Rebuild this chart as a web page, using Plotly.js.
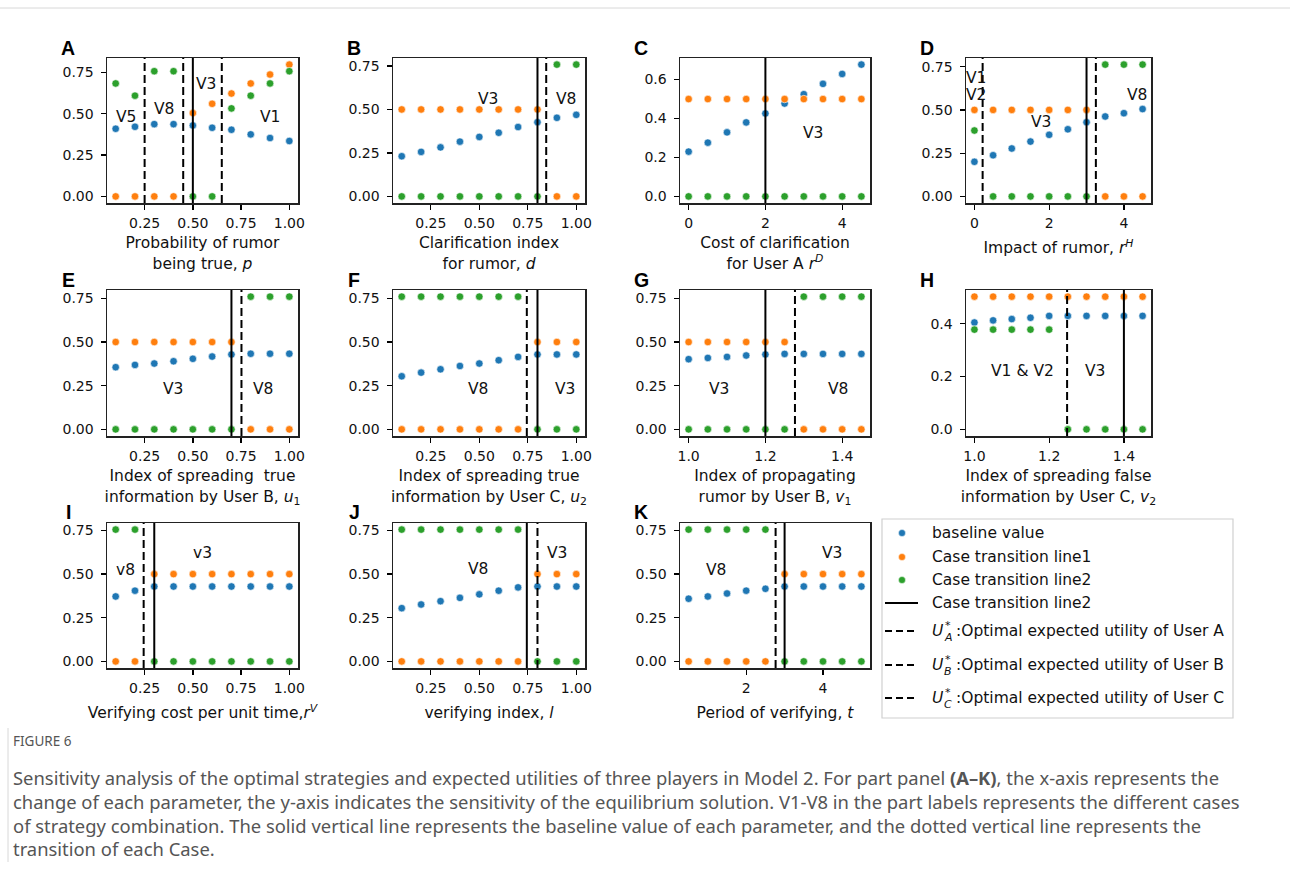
<!DOCTYPE html>
<html><head><meta charset="utf-8">
<script src="https://cdn.plot.ly/plotly-3.0.1.min.js"></script>
<style>body{margin:0;background:#fff}#chart{width:1290px;height:879px}</style>
</head><body><div id="chart"></div>
<script>
// ---------- data ----------
const x01 = [0.1,0.2,0.3,0.4,0.5,0.6,0.7,0.8,0.9,1.0];
const xCost = [0,0.5,1,1.5,2,2.5,3,3.5,4,4.5];
const xIdx = [1.0,1.05,1.1,1.15,1.2,1.25,1.3,1.35,1.4,1.45];
const xPeriod = [0.5,1,1.5,2,2.5,3,3.5,4,4.5,5];

const blueA = [0.409,0.421,0.437,0.437,0.429,0.415,0.403,0.375,0.353,0.335];
const orangeA = [0,0,0,0,0.504,0.56,0.622,0.683,0.737,0.797];
const greenA = [0.683,0.609,0.757,0.757,0,0,0.532,0.609,0.683,0.757];
const solidA = [0.5], dashA = [0.25,0.45,0.65];
const labA = ['V5','V8','V3','V1'], labXA = [0.151,0.35,0.57,0.90], labYA = [0.48,0.53,0.68,0.48];

const blueB = [0.231,0.256,0.282,0.315,0.342,0.366,0.399,0.427,0.452,0.469];
const orangeB = [0.5,0.5,0.5,0.5,0.5,0.5,0.5,0.5,0,0];
const greenB = [0,0,0,0,0,0,0,0,0.758,0.758];
const solidB = [0.8], dashB = [0.845];
const labB = ['V3','V8'], labXB = [0.547,0.947], labYB = [0.56,0.56];

const blueC = [0.230,0.276,0.329,0.380,0.426,0.477,0.525,0.578,0.629,0.677];
const orangeC = [0.5,0.5,0.5,0.5,0.5,0.5,0.5,0.5,0.5,0.5];
const greenC = [0,0,0,0,0,0,0,0,0,0];
const solidC = [2.0], dashC = [];
const labC = ['V3'], labXC = [3.23], labYC = [0.324];

const blueD = [0.200,0.238,0.277,0.317,0.356,0.388,0.429,0.462,0.481,0.505];
const orangeD = [0.5,0.5,0.5,0.5,0.5,0.5,0.5,0,0,0];
const greenD = [0.381,0,0,0,0,0,0,0.762,0.762,0.762];
const solidD = [3.0], dashD = [0.22,3.25];
const labD = ['V1','V2','V3','V8'], labXD = [0.03,0.03,1.77,4.35], labYD = [0.683,0.587,0.433,0.587];

const blueE = [0.356,0.369,0.377,0.390,0.404,0.417,0.429,0.433,0.433,0.433];
const orangeE = [0.5,0.5,0.5,0.5,0.5,0.5,0.5,0,0,0];
const greenE = [0,0,0,0,0,0,0,0.76,0.76,0.76];
const solidE = [0.7], dashE = [0.752];
const labE = ['V3','V8'], labXE = [0.398,0.863], labYE = [0.233,0.233];

const blueF = [0.304,0.325,0.344,0.363,0.377,0.396,0.415,0.429,0.429,0.429];
const orangeF = [0,0,0,0,0,0,0,0.5,0.5,0.5];
const greenF = [0.76,0.76,0.76,0.76,0.76,0.76,0.76,0,0,0];
const solidF = [0.8], dashF = [0.745];
const labF = ['V8','V3'], labXF = [0.495,0.943], labYF = [0.233,0.233];

const blueG = [0.402,0.409,0.415,0.423,0.429,0.432,0.432,0.432,0.432,0.432];
const orangeG = [0.5,0.5,0.5,0.5,0.5,0.5,0,0,0,0];
const greenG = [0,0,0,0,0,0,0.76,0.76,0.76,0.76];
const solidG = [1.2], dashG = [1.277];
const labG = ['V3','V8'], labXG = [1.08,1.39], labYG = [0.233,0.233];

const blueH = [0.405,0.413,0.418,0.423,0.430,0.430,0.430,0.430,0.430,0.430];
const orangeH = [0.503,0.503,0.503,0.503,0.503,0.503,0.503,0.503,0.503,0.503];
const greenH = [0.378,0.378,0.378,0.378,0.378,0,0,0,0,0];
const solidH = [1.4], dashH = [1.248];
const labH = ['V1 & V2','V3'], labXH = [1.13,1.323], labYH = [0.221,0.221];

const blueI = [0.372,0.405,0.429,0.429,0.429,0.429,0.429,0.429,0.429,0.429];
const orangeI = [0,0,0.5,0.5,0.5,0.5,0.5,0.5,0.5,0.5];
const greenI = [0.755,0.755,0,0,0,0,0,0,0,0];
const solidI = [0.3], dashI = [0.245];
const labI = ['v8','v3'], labXI = [0.15,0.549], labYI = [0.525,0.62];

const blueJ = [0.305,0.326,0.345,0.364,0.384,0.405,0.424,0.429,0.429,0.429];
const orangeJ = [0,0,0,0,0,0,0,0.5,0.5,0.5];
const greenJ = [0.755,0.755,0.755,0.755,0.755,0.755,0.755,0,0,0];
const solidJ = [0.745], dashJ = [0.8];
const labJ = ['V8','V3'], labXJ = [0.495,0.90], labYJ = [0.53,0.62];

const blueK = [0.359,0.372,0.389,0.405,0.416,0.429,0.429,0.429,0.429,0.429];
const orangeK = [0,0,0,0,0,0.5,0.5,0.5,0.5,0.5];
const greenK = [0.755,0.755,0.755,0.755,0.755,0,0,0,0,0];
const solidK = [3.0], dashK = [2.766];
const labK = ['V8','V3'], labXK = [1.22,4.24], labYK = [0.525,0.62];

// tick labels
const tick01 = [0.25,0.5,0.75,1.0], tick01Text = ['0.25','0.50','0.75','1.00'];
const tickCost = [0,2,4], tickCostText = ['0','2','4'];
const tickIdx = [1.0,1.2,1.4], tickIdxText = ['1.0','1.2','1.4'];
const tickPeriod = [2,4], tickPeriodText = ['2','4'];
const tickY = [0,0.25,0.5,0.75], tickYText = ['0.00','0.25','0.50','0.75'];
const tickY2 = [0,0.2,0.4,0.6], tickY2Text = ['0.0','0.2','0.4','0.6'];
const tickY3 = [0,0.2,0.4], tickY3Text = ['0.0','0.2','0.4'];

const panelLetters = ['A','B','C','D','E','F','G','H','I','J','K'];
const xTitles = [
 'Probability of rumor<br>being true, <i>p</i>',
 'Clarification index<br>for rumor, <i>d</i>',
 'Cost of clarification<br>for User A <i>r</i><sup><i>D</i></sup>',
 'Impact of rumor, <i>r</i><sup><i>H</i></sup>',
 'Index of spreading  true<br>information by User B, <i>u</i><sub>1</sub>',
 'Index of spreading true<br>information by User C, <i>u</i><sub>2</sub>',
 'Index of propagating<br>rumor by User B, <i>v</i><sub>1</sub>',
 'Index of spreading false<br>information by User C, <i>v</i><sub>2</sub>',
 'Verifying cost per unit time,<i>r</i><sup><i>V</i></sup>',
 'verifying index, <i>l</i>',
 'Period of verifying, <i>t</i>'
];
const legendNames = ['baseline value','Case transition line1','Case transition line2','Case transition line2'];
const legendUsers = ['A','B','C'];

// ---------- layout helpers ----------
const W = 1290, H = 879;
const FONT = 'DejaVu Sans';
const colsPx = [[107,298],[393,585],[680,870],[966,1151]];
const rowsPx = [[58,203],[290,436],[523,668]];
const letterDy = [10, 10, 11];
const COLORS = ['#1f77b4','#ff7f0e','#2ca02c'];

const panels = [
 {x:x01, s:[blueA,orangeA,greenA], sol:solidA, das:dashA, lab:labA, lx:labXA, ly:labYA, tv:tick01, tt:tick01Text, yv:tickY, yt:tickYText},
 {x:x01, s:[blueB,orangeB,greenB], sol:solidB, das:dashB, lab:labB, lx:labXB, ly:labYB, tv:tick01, tt:tick01Text, yv:tickY, yt:tickYText},
 {x:xCost, s:[blueC,orangeC,greenC], sol:solidC, das:dashC, lab:labC, lx:labXC, ly:labYC, tv:tickCost, tt:tickCostText, yv:tickY2, yt:tickY2Text},
 {x:xCost, s:[blueD,orangeD,greenD], sol:solidD, das:dashD, lab:labD, lx:labXD, ly:labYD, tv:tickCost, tt:tickCostText, yv:tickY, yt:tickYText},
 {x:x01, s:[blueE,orangeE,greenE], sol:solidE, das:dashE, lab:labE, lx:labXE, ly:labYE, tv:tick01, tt:tick01Text, yv:tickY, yt:tickYText},
 {x:x01, s:[blueF,orangeF,greenF], sol:solidF, das:dashF, lab:labF, lx:labXF, ly:labYF, tv:tick01, tt:tick01Text, yv:tickY, yt:tickYText},
 {x:xIdx, s:[blueG,orangeG,greenG], sol:solidG, das:dashG, lab:labG, lx:labXG, ly:labYG, tv:tickIdx, tt:tickIdxText, yv:tickY, yt:tickYText},
 {x:xIdx, s:[blueH,orangeH,greenH], sol:solidH, das:dashH, lab:labH, lx:labXH, ly:labYH, tv:tickIdx, tt:tickIdxText, yv:tickY3, yt:tickY3Text},
 {x:x01, s:[blueI,orangeI,greenI], sol:solidI, das:dashI, lab:labI, lx:labXI, ly:labYI, tv:tick01, tt:tick01Text, yv:tickY, yt:tickYText},
 {x:x01, s:[blueJ,orangeJ,greenJ], sol:solidJ, das:dashJ, lab:labJ, lx:labXJ, ly:labYJ, tv:tick01, tt:tick01Text, yv:tickY, yt:tickYText},
 {x:xPeriod, s:[blueK,orangeK,greenK], sol:solidK, das:dashK, lab:labK, lx:labXK, ly:labYK, tv:tickPeriod, tt:tickPeriodText, yv:tickY, yt:tickYText}
];

function autoRange(arr){
  const mn = Math.min(...arr), mx = Math.max(...arr), pad = (mx-mn)*0.05;
  return [mn-pad, mx+pad];
}
const px = v => v / W;
const py = v => 1 - v / H;

const traces = [], shapes = [], annotations = [];
const layout = {
  width: W, height: H, margin:{l:0,r:0,t:0,b:0},
  paper_bgcolor:'#fff', plot_bgcolor:'#fff', showlegend:false,
  font:{family:FONT, color:'#000'}
};

panels.forEach((p, i) => {
  const n = i + 1, sfx = n === 1 ? '' : String(n);
  const r = Math.floor(i / 4);
  const col = colsPx[i % 4], row = rowsPx[r];
  p.s.forEach((ys, k) => {
    traces.push({type:'scatter', mode:'markers', x:p.x, y:ys, xaxis:'x'+sfx, yaxis:'y'+sfx,
      marker:{color:COLORS[k], size:7.5, line:{color:'#fff', width:0.6}}, hoverinfo:'x+y', showlegend:false, cliponaxis:false});
  });
  const allY = [].concat(...p.s);
  const twoLine = xTitles[i].indexOf('<br>') >= 0;
  layout['xaxis'+sfx] = {
    domain:[px(col[0]), px(col[1])], anchor:'y'+sfx, range:autoRange(p.x),
    tickvals:p.tv, ticktext:p.tt, ticks:'outside', ticklen:5, tickwidth:1.3, tickcolor:'#000',
    showline:true, mirror:true, linecolor:'#222', linewidth:1.5, showgrid:false, zeroline:false,
    tickfont:{family:FONT, size:14, color:'#111'}, automargin:false, ticklabelstandoff:2,
    title:{text:xTitles[i], font:{family:FONT, size:15.5, color:'#111'}, standoff: twoLine ? 7 : 12}
  };
  layout['yaxis'+sfx] = {
    domain:[py(row[1]), py(row[0])], anchor:'x'+sfx, range:autoRange(allY),
    tickvals:p.yv, ticktext:p.yt, ticks:'outside', ticklen:5, tickwidth:1.3, tickcolor:'#000',
    showline:true, mirror:true, linecolor:'#222', linewidth:1.5, showgrid:false, zeroline:false,
    tickfont:{family:FONT, size:14, color:'#111'}, automargin:false, ticklabelstandoff:4
  };
  p.sol.forEach(v => shapes.push({type:'line', xref:'x'+sfx, yref:'y'+sfx+' domain', x0:v, x1:v, y0:0, y1:1,
    line:{color:'#000', width:2}, layer:'above'}));
  p.das.forEach(v => shapes.push({type:'line', xref:'x'+sfx, yref:'y'+sfx+' domain', x0:v, x1:v, y0:0, y1:1,
    line:{color:'#000', width:2, dash:'8px,4px'}, layer:'above'}));
  p.lab.forEach((t, j) => annotations.push({xref:'x'+sfx, yref:'y'+sfx, x:p.lx[j], y:p.ly[j], text:t,
    showarrow:false, xanchor:'center', yanchor:'middle', font:{family:FONT, size:15.5, color:'#111'}}));
  // panel letter
  annotations.push({xref:'paper', yref:'paper', x:px(col[0]-39), y:py(row[0]-letterDy[r]), text:'<b>'+panelLetters[i]+'</b>',
    showarrow:false, xanchor:'center', yanchor:'middle', font:{family:'Liberation Sans', size:19.5, color:'#000'}});
});

// ---------- manual legend ----------
const LG = {x0:882, x1:1233, y0:519, y1:718};
shapes.push({type:'rect', xref:'paper', yref:'paper', x0:px(LG.x0), x1:px(LG.x1), y0:py(LG.y1), y1:py(LG.y0),
  line:{color:'#d0d0d0', width:1.2}, fillcolor:'rgba(255,255,255,0.8)'});
const legRows = [533, 557, 580, 603, 631, 665, 698];
const legFont = {family:FONT, size:15.5, color:'#111'};
for (let k = 0; k < 3; k++) {
  const cy = legRows[k];
  shapes.push({type:'circle', xref:'paper', yref:'paper', x0:px(902-3.5), x1:px(902+3.5), y0:py(cy+3.5), y1:py(cy-3.5),
    fillcolor:COLORS[k], line:{color:'#fff', width:0.5}});
}
for (let k = 0; k < 4; k++) {
  annotations.push({xref:'paper', yref:'paper', x:px(930), y:py(legRows[k]), text:legendNames[k], showarrow:false,
    xanchor:'left', yanchor:'middle', font:legFont});
}
shapes.push({type:'line', xref:'paper', yref:'paper', x0:px(885), x1:px(918), y0:py(603), y1:py(603), line:{color:'#000', width:2}});
legendUsers.forEach((u, k) => {
  const cy = legRows[4 + k];
  shapes.push({type:'line', xref:'paper', yref:'paper', x0:px(885), x1:px(918), y0:py(cy), y1:py(cy), line:{color:'#000', width:2, dash:'7px,4px'}});
  annotations.push({xref:'paper', yref:'paper', x:px(930), y:py(cy), text:'<i>U</i>', showarrow:false, xanchor:'left', yanchor:'middle', font:legFont});
  annotations.push({xref:'paper', yref:'paper', x:px(943), y:py(cy-6), text:'*', showarrow:false, xanchor:'left', yanchor:'middle', font:{family:FONT, size:11, color:'#111'}});
  annotations.push({xref:'paper', yref:'paper', x:px(942), y:py(cy+6), text:'<i>'+u+'</i>', showarrow:false, xanchor:'left', yanchor:'middle', font:{family:FONT, size:11, color:'#111'}});
  annotations.push({xref:'paper', yref:'paper', x:px(954), y:py(cy), text:':Optimal expected utility of User '+u, showarrow:false, xanchor:'left', yanchor:'middle', font:legFont});
});

// ---------- caption ----------
const captionLines = [
 'Sensitivity analysis of the optimal strategies and expected utilities of three players in Model 2. For part panel <b>(A–K)</b>, the x-axis represents the',
 'change of each parameter, the y-axis indicates the sensitivity of the equilibrium solution. V1-V8 in the part labels represents the different cases',
 'of strategy combination. The solid vertical line represents the baseline value of each parameter, and the dotted vertical line represents the',
 'transition of each Case.'
];
const capY = [777, 801, 825, 848];
annotations.push({xref:'paper', yref:'paper', x:px(11), y:py(741), text:'FIGURE 6', showarrow:false, xanchor:'left', yanchor:'middle',
  font:{family:'Noto Sans', size:13.5, color:'#555'}});
captionLines.forEach((t, k) => annotations.push({xref:'paper', yref:'paper', x:px(11), y:py(capY[k]), text:t, showarrow:false,
  xanchor:'left', yanchor:'middle', font:{family:'Noto Sans', size:18.4, color:'#555'}}));
shapes.push({type:'line', xref:'paper', yref:'paper', x0:0, x1:1, y0:py(8), y1:py(8), line:{color:'#d8d8d8', width:1}});
shapes.push({type:'line', xref:'paper', yref:'paper', x0:px(8), x1:px(8), y0:py(728), y1:py(862), line:{color:'#d8d8d8', width:1}});

layout.shapes = shapes;
layout.annotations = annotations;
Plotly.newPlot('chart', traces, layout, {staticPlot:true});
</script>
</body></html>
